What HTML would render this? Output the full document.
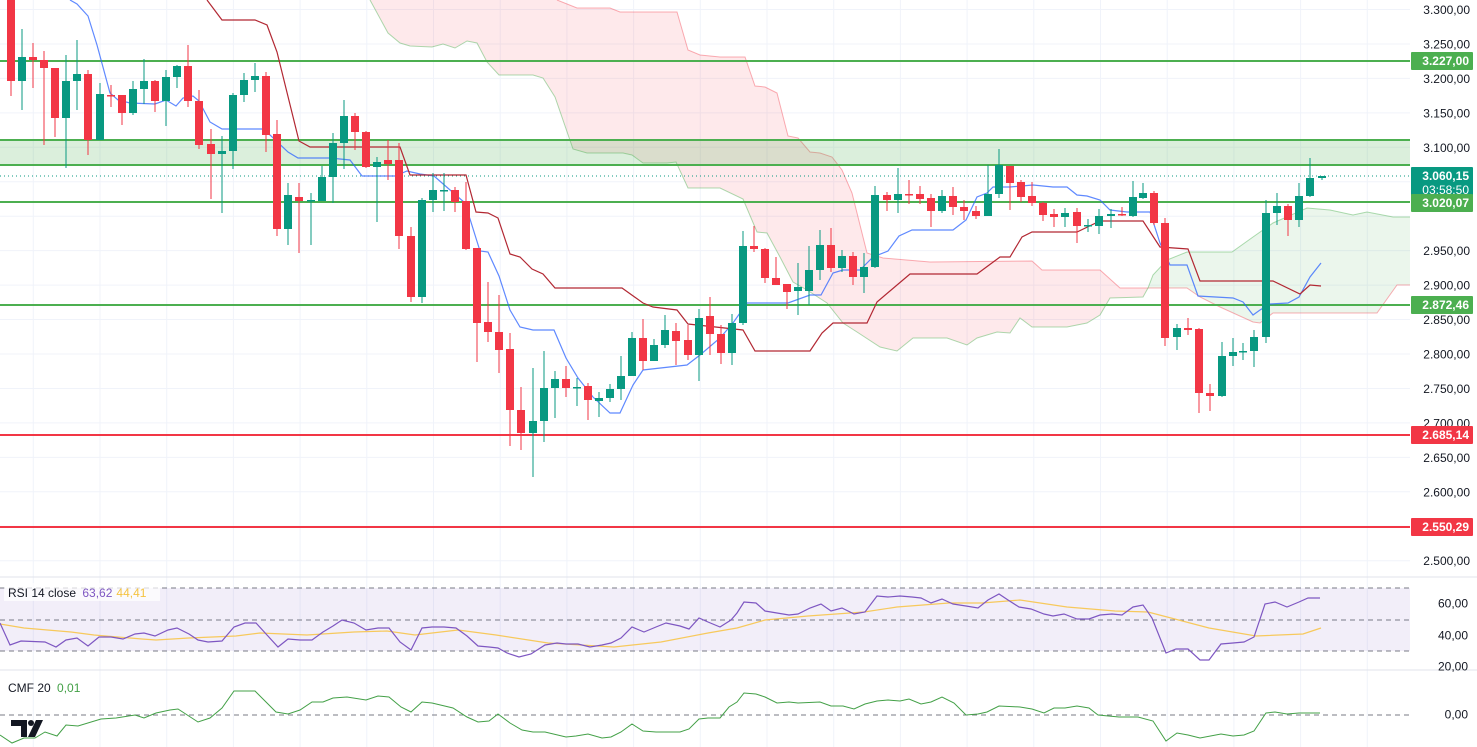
<!DOCTYPE html>
<html><head><meta charset="utf-8"><style>
html,body{margin:0;padding:0;background:#fff;}
svg{display:block;font-family:"Liberation Sans",sans-serif;}
</style></head><body>
<svg id="s" width="1477" height="747" viewBox="0 0 1477 747" xmlns="http://www.w3.org/2000/svg"></svg>
<script>
const S=document.getElementById('s');let h='';
const P=a=>a.map(p=>p[0]+','+p[1]).join(' ');
const py=p=>9.5+(3300-p)*0.689;
// grid
for(let x=33.3;x<1410;x+=66.7)h+=`<line x1="${x}" y1="0" x2="${x}" y2="747" stroke="#f0f3fa" stroke-width="1"/>`;
for(let p=3300;p>=2500;p-=50){const y=py(p);h+=`<line x1="0" y1="${y}" x2="1410" y2="${y}" stroke="#f0f3fa"/>`;}
// cloud
const red=[[557,0],[577,8],[610,8],[620,12],[677,12],[688,50],[700,55],[720,57],[745,57],[755,86],[765,87],[777,93],[788,136],[798,138],[810,152],[820,153],[832,157],[842,170],[852,193],[867,253],[883,258],[930,262],[1032,261],[1042,270],[1100,270],[1120,288],[1148,288],[1187,288],[1200,297],[1220,307],[1253,322],[1260,323],[1273,313],[1377,313],[1397,285],[1413,285]];
const grn=[[370,0],[388,33],[400,43],[410,46],[432,47],[443,44],[455,48],[467,41],[477,43],[487,62],[499,75],[533,75],[543,78],[555,97],[573,149],[587,153],[623,153],[632,155],[643,163],[667,163],[676,162],[688,188],[720,188],[743,199],[757,232],[767,233],[780,257],[793,282],[807,290],[827,303],[843,323],[857,332],[880,347],[897,351],[913,338],[947,338],[967,345],[977,338],[997,332],[1010,333],[1020,318],[1032,327],[1067,327],[1087,323],[1100,315],[1110,298],[1143,297],[1148,288],[1153,275],[1167,260],[1187,252],[1232,252],[1253,237],[1273,223],[1307,208],[1330,210],[1353,215],[1367,212],[1393,217],[1413,217]];
const ri=red.findIndex(p=>p[0]==1148),gi=grn.findIndex(p=>p[0]==1148);
const pink=[[370,0]].concat(red.slice(0,ri+1),grn.slice(0,gi).reverse());
const gfill=grn.slice(gi).concat(red.slice(ri+1).reverse());
h+=`<polygon points="${P(pink)}" fill="rgba(242,54,69,0.11)"/>`;
h+=`<polygon points="${P(gfill)}" fill="rgba(76,175,80,0.11)"/>`;
h+=`<polyline points="${P(red)}" fill="none" stroke="rgba(242,54,69,0.4)" stroke-width="1"/>`;
h+=`<polyline points="${P(grn)}" fill="none" stroke="rgba(76,175,80,0.45)" stroke-width="1"/>`;
// levels
h+=`<rect x="0" y="140" width="1410" height="25" fill="rgba(76,175,80,0.2)"/>`;
[61,140,165,202,305].forEach(y=>h+=`<line x1="0" y1="${y}" x2="1410" y2="${y}" stroke="#4caf50" stroke-width="2"/>`);
[435,527].forEach(y=>h+=`<line x1="0" y1="${y}" x2="1410" y2="${y}" stroke="#f23645" stroke-width="2"/>`);
h+=`<line x1="0" y1="176" x2="1410" y2="176" stroke="#089981" stroke-width="1" stroke-dasharray="1,3"/>`;
// tenkan/kijun
const ten=[[70,0],[77,4],[88,16],[97,45],[110,93],[118,100],[130,103],[155,104],[166,100],[176,106],[183,98],[193,96],[199,101],[210,122],[222,129],[262,129],[270,135],[288,152],[298,158],[330,158],[350,160],[362,176],[395,176],[407,171],[420,174],[434,176],[465,203],[480,251],[488,252],[499,276],[510,310],[520,327],[533,330],[554,330],[566,358],[578,378],[593,397],[610,413],[620,413],[633,385],[643,370],[687,365],[700,355],[720,338],[733,323],[747,303],[788,303],[810,295],[821,295],[833,273],[843,270],[860,270],[873,257],[888,251],[899,236],[912,230],[953,230],[966,220],[977,197],[987,193],[993,187],[1010,187],[1033,185],[1053,187],[1067,187],[1077,195],[1087,196],[1100,200],[1110,210],[1127,212],[1150,212],[1160,243],[1170,265],[1187,265],[1198,296],[1233,298],[1243,302],[1253,315],[1260,310],[1270,304],[1288,303],[1299,297],[1310,277],[1321,263]];
const kij=[[207,0],[222,20],[255,20],[267,25],[277,52],[299,141],[310,147],[400,147],[410,175],[466,175],[476,212],[488,213],[498,218],[510,254],[520,257],[532,269],[543,274],[555,288],[622,288],[643,303],[653,307],[677,310],[688,324],[743,330],[755,351],[810,351],[822,333],[833,323],[867,323],[877,302],[910,274],[977,274],[1000,257],[1010,257],[1022,237],[1032,232],[1077,232],[1100,221],[1143,221],[1160,247],[1188,249],[1200,281],[1273,281],[1300,294],[1310,285],[1321,286]];
h+=`<polyline points="${P(ten)}" fill="none" stroke="#2962ff" stroke-opacity="0.75" stroke-width="1.2"/>`;
h+=`<polyline points="${P(kij)}" fill="none" stroke="#b22833" stroke-width="1.2"/>`;
// candles [x,o,c,h,l]
const C=[[11,0,81,0,96],[22,81,57,29,110],[33,57,60,43,88],[44,60,68,51,145],[55,68,118,68,137],[66,118,81,55,168],[77,81,74,40,110],[88,74,140,70,155],[100,140,94,83,140],[111,95,96,85,107],[122,95,113,95,125],[133,113,89,81,115],[144,89,81,59,104],[155,81,101,80,112],[166,101,77,70,126],[177,77,66,65,88],[188,66,101,45,107],[199,101,145,90,149],[211,144,154,129,199],[222,154,151,136,213],[233,151,95,93,169],[244,95,80,73,102],[255,80,76,63,92],[266,76,135,72,152],[277,134,229,120,236],[288,229,195,183,245],[299,197,201,183,253],[311,201,200,193,245],[322,201,177,166,200],[333,177,143,133,203],[344,143,116,100,169],[355,116,132,113,150],[366,132,167,131,168],[377,167,162,157,222],[388,160,164,140,180],[399,160,236,143,249],[411,236,297,227,302],[422,297,200,198,303],[433,200,190,173,212],[444,191,190,173,211],[455,190,202,187,212],[466,201,249,182,250],[477,248,323,248,362],[488,322,332,282,342],[499,332,350,295,373],[510,349,410,333,446],[521,410,433,387,450],[533,433,421,368,477],[544,421,388,351,442],[555,388,379,371,418],[566,379,388,366,397],[577,388,387,378,406],[588,386,400,383,420],[599,401,398,392,417],[610,398,389,384,402],[621,389,376,356,400],[632,376,338,332,376],[643,338,361,319,370],[654,361,345,339,361],[665,345,330,315,348],[676,331,341,323,365],[688,340,355,325,360],[699,355,318,309,381],[710,316,334,297,355],[721,334,353,325,364],[732,353,323,314,365],[743,323,246,231,325],[754,246,249,226,252],[765,249,278,248,283],[776,278,285,257,285],[787,284,292,284,309],[798,291,287,263,315],[809,291,270,246,305],[820,270,245,230,280],[831,245,268,228,272],[842,268,256,250,272],[853,256,277,252,285],[864,277,267,253,293],[875,267,195,186,268],[887,195,200,192,211],[898,200,194,168,213],[909,194,195,180,204],[920,194,199,186,204],[931,198,211,194,227],[942,211,196,190,213],[953,196,207,187,215],[964,207,211,200,220],[976,211,216,206,219],[988,216,194,165,216],[999,194,165,149,198],[1010,166,183,166,210],[1021,182,197,180,202],[1032,196,203,182,206],[1043,203,215,202,221],[1054,214,217,209,227],[1065,217,213,208,227],[1077,212,226,208,243],[1088,226,225,219,232],[1099,226,216,209,234],[1111,216,214,209,228],[1122,214,215,207,216],[1133,216,197,181,217],[1143,198,193,183,199],[1154,193,223,191,225],[1165,223,338,218,346],[1177,337,328,324,350],[1188,328,330,318,335],[1199,329,393,328,413],[1210,393,396,384,411],[1222,396,356,342,397],[1233,356,352,338,366],[1243,352,351,343,360],[1254,351,337,330,367],[1266,337,213,200,343],[1277,213,206,193,225],[1288,206,220,204,236],[1299,220,196,183,227],[1310,196,178,158,197],[1322,178,176,176,180]];
C.forEach(([x,o,c,hi,lo])=>{const col=c<o?'#089981':'#f23645';const t=Math.min(o,c),b=Math.max(o,c);
h+=`<line x1="${x}" y1="${hi}" x2="${x}" y2="${lo}" stroke="${col}" stroke-width="1"/>`;
h+=`<rect x="${x-4}" y="${t}" width="8" height="${Math.max(b-t,1.5)}" fill="${col}"/>`;});
// right axis
h+=`<rect x="1410" y="0" width="67" height="747" fill="#fff"/>`;
[3300,3250,3200,3150,3100,2950,2900,2850,2800,2750,2700,2650,2600,2500].forEach(p=>{const s=(p/1000).toFixed(3).replace('.', '.')+',00';h+=`<text x="1470" y="${py(p)+4.5}" font-size="12" fill="#131722" text-anchor="end">${Math.floor(p/1000)}.${String(p%1000).padStart(3,'0')},00</text>`;});
const tag=(y,hgt,col,t1,t2)=>{h+=`<rect x="1411" y="${y}" width="62" height="${hgt}" fill="${col}" rx="1"/><text x="1469" y="${y+13}" font-size="12" font-weight="bold" fill="#fff" text-anchor="end">${t1}</text>`;if(t2)h+=`<text x="1469" y="${y+27}" font-size="12" fill="#fff" text-anchor="end">${t2}</text>`;};
tag(52,18,'#4caf50','3.227,00');tag(167,31,'#089981','3.060,15','03:58:50');tag(194,18,'#4caf50','3.020,07');tag(296,18,'#4caf50','2.872,46');tag(426,18,'#f23645','2.685,14');tag(518,18,'#f23645','2.550,29');
// panes
h+=`<line x1="0" y1="577" x2="1477" y2="577" stroke="#e0e3eb"/><line x1="0" y1="670" x2="1477" y2="670" stroke="#e0e3eb"/>`;
h+=`<rect x="0" y="588" width="1410" height="63" fill="rgba(126,87,194,0.1)"/>`;
[588,620,651,715].forEach(y=>h+=`<line x1="0" y1="${y}" x2="1410" y2="${y}" stroke="#787b86" stroke-dasharray="5,4"/>`);
const rsi=[[0,623],[10,645],[21,641],[45,642],[56,647],[66,640],[77,638],[88,646],[99,637],[111,637],[123,639],[135,634],[144,633],[155,636],[168,630],[177,628],[189,634],[198,640],[208,642],[222,641],[234,627],[245,623],[256,623],[267,635],[278,647],[288,639],[300,640],[312,640],[323,632],[333,626],[342,620],[354,623],[366,630],[378,628],[389,628],[400,642],[411,650],[422,628],[432,627],[444,627],[456,628],[467,636],[478,646],[489,647],[498,648],[507,653],[519,657],[531,654],[545,645],[557,643],[566,644],[578,644],[590,647],[602,645],[611,643],[621,638],[632,627],[644,632],[656,627],[666,623],[680,626],[689,629],[699,618],[708,622],[720,627],[731,620],[737,613],[744,602],[756,603],[765,611],[777,613],[789,615],[798,614],[810,608],[821,604],[831,611],[842,608],[854,614],[865,612],[877,596],[888,597],[900,596],[912,597],[921,598],[931,603],[942,599],[953,604],[966,606],[978,608],[988,600],[999,594],[1008,600],[1019,607],[1031,609],[1044,614],[1053,616],[1064,614],[1077,619],[1089,619],[1100,615],[1112,614],[1122,615],[1133,607],[1143,605],[1152,618],[1166,653],[1176,649],[1188,649],[1200,660],[1209,660],[1221,644],[1233,643],[1244,642],[1254,637],[1265,604],[1275,602],[1287,607],[1299,602],[1308,598],[1320,598]];
const ma=[[0,624],[24,628],[71,632],[94,635],[142,639],[156,640],[189,638],[236,636],[260,633],[307,635],[354,632],[387,631],[415,635],[458,630],[496,635],[548,643],[614,647],[661,642],[708,633],[737,628],[765,620],[808,616],[864,612],[897,607],[949,603],[982,603],[1020,600],[1067,607],[1115,611],[1148,612],[1171,618],[1209,628],[1256,636],[1303,634],[1321,628]];
const cmf=[[0,735],[12,743],[24,738],[35,738],[45,732],[57,736],[66,725],[78,726],[101,719],[116,718],[135,715],[144,718],[156,713],[170,710],[178,709],[198,722],[210,718],[222,708],[234,691],[255,691],[267,703],[276,712],[288,714],[300,710],[312,702],[323,702],[333,698],[347,697],[366,700],[378,696],[389,697],[401,707],[411,712],[422,702],[432,703],[453,708],[467,717],[478,722],[489,721],[498,714],[510,723],[522,730],[533,732],[545,732],[566,737],[576,736],[588,734],[602,738],[611,737],[621,732],[632,724],[643,731],[656,732],[680,732],[689,729],[699,719],[708,718],[720,718],[729,707],[737,702],[744,693],[756,694],[765,697],[777,703],[789,702],[798,703],[820,702],[831,706],[843,706],[854,709],[865,704],[877,701],[888,700],[900,701],[909,699],[921,704],[931,702],[942,697],[954,703],[966,715],[978,714],[987,712],[999,706],[1020,707],[1032,709],[1044,713],[1054,708],[1065,708],[1077,706],[1089,708],[1098,715],[1119,717],[1138,717],[1153,721],[1166,741],[1177,733],[1188,735],[1200,738],[1221,734],[1233,736],[1244,735],[1254,731],[1266,713],[1275,712],[1287,714],[1299,713],[1320,713]];
h+=`<polyline points="${P(ma)}" fill="none" stroke="#f7c95c" stroke-width="1.2"/>`;
h+=`<polyline points="${P(rsi)}" fill="none" stroke="#7e57c2" stroke-width="1.2"/>`;
h+=`<polyline points="${P(cmf)}" fill="none" stroke="#43a047" stroke-width="1"/>`;
[[603,'60,00'],[635,'40,00'],[666,'20,00'],[714,'0,00']].forEach(([y,t])=>h+=`<text x="1468" y="${y+4.5}" font-size="12" fill="#131722" text-anchor="end">${t}</text>`);
h+=`<rect x="4" y="583" width="156" height="18" fill="rgba(255,255,255,0.7)"/>`;
h+=`<text x="8" y="597" font-size="12" fill="#131722">RSI 14 close <tspan fill="#7e57c2" dx="3">63,62</tspan><tspan fill="#f5c341" dx="4">44,41</tspan></text>`;
h+=`<text x="8" y="692" font-size="12" fill="#131722">CMF 20 <tspan fill="#43a047" dx="3">0,01</tspan></text>`;
// logo
h+=`<path d="M11 720 H27 V737 H21 V726 H11 Z" fill="#131722"/><circle cx="31" cy="723" r="3" fill="#131722"/><path d="M36 720 H43 L35 737 H28 Z" fill="#131722"/>`;
S.innerHTML=h;
</script>
</body></html>
